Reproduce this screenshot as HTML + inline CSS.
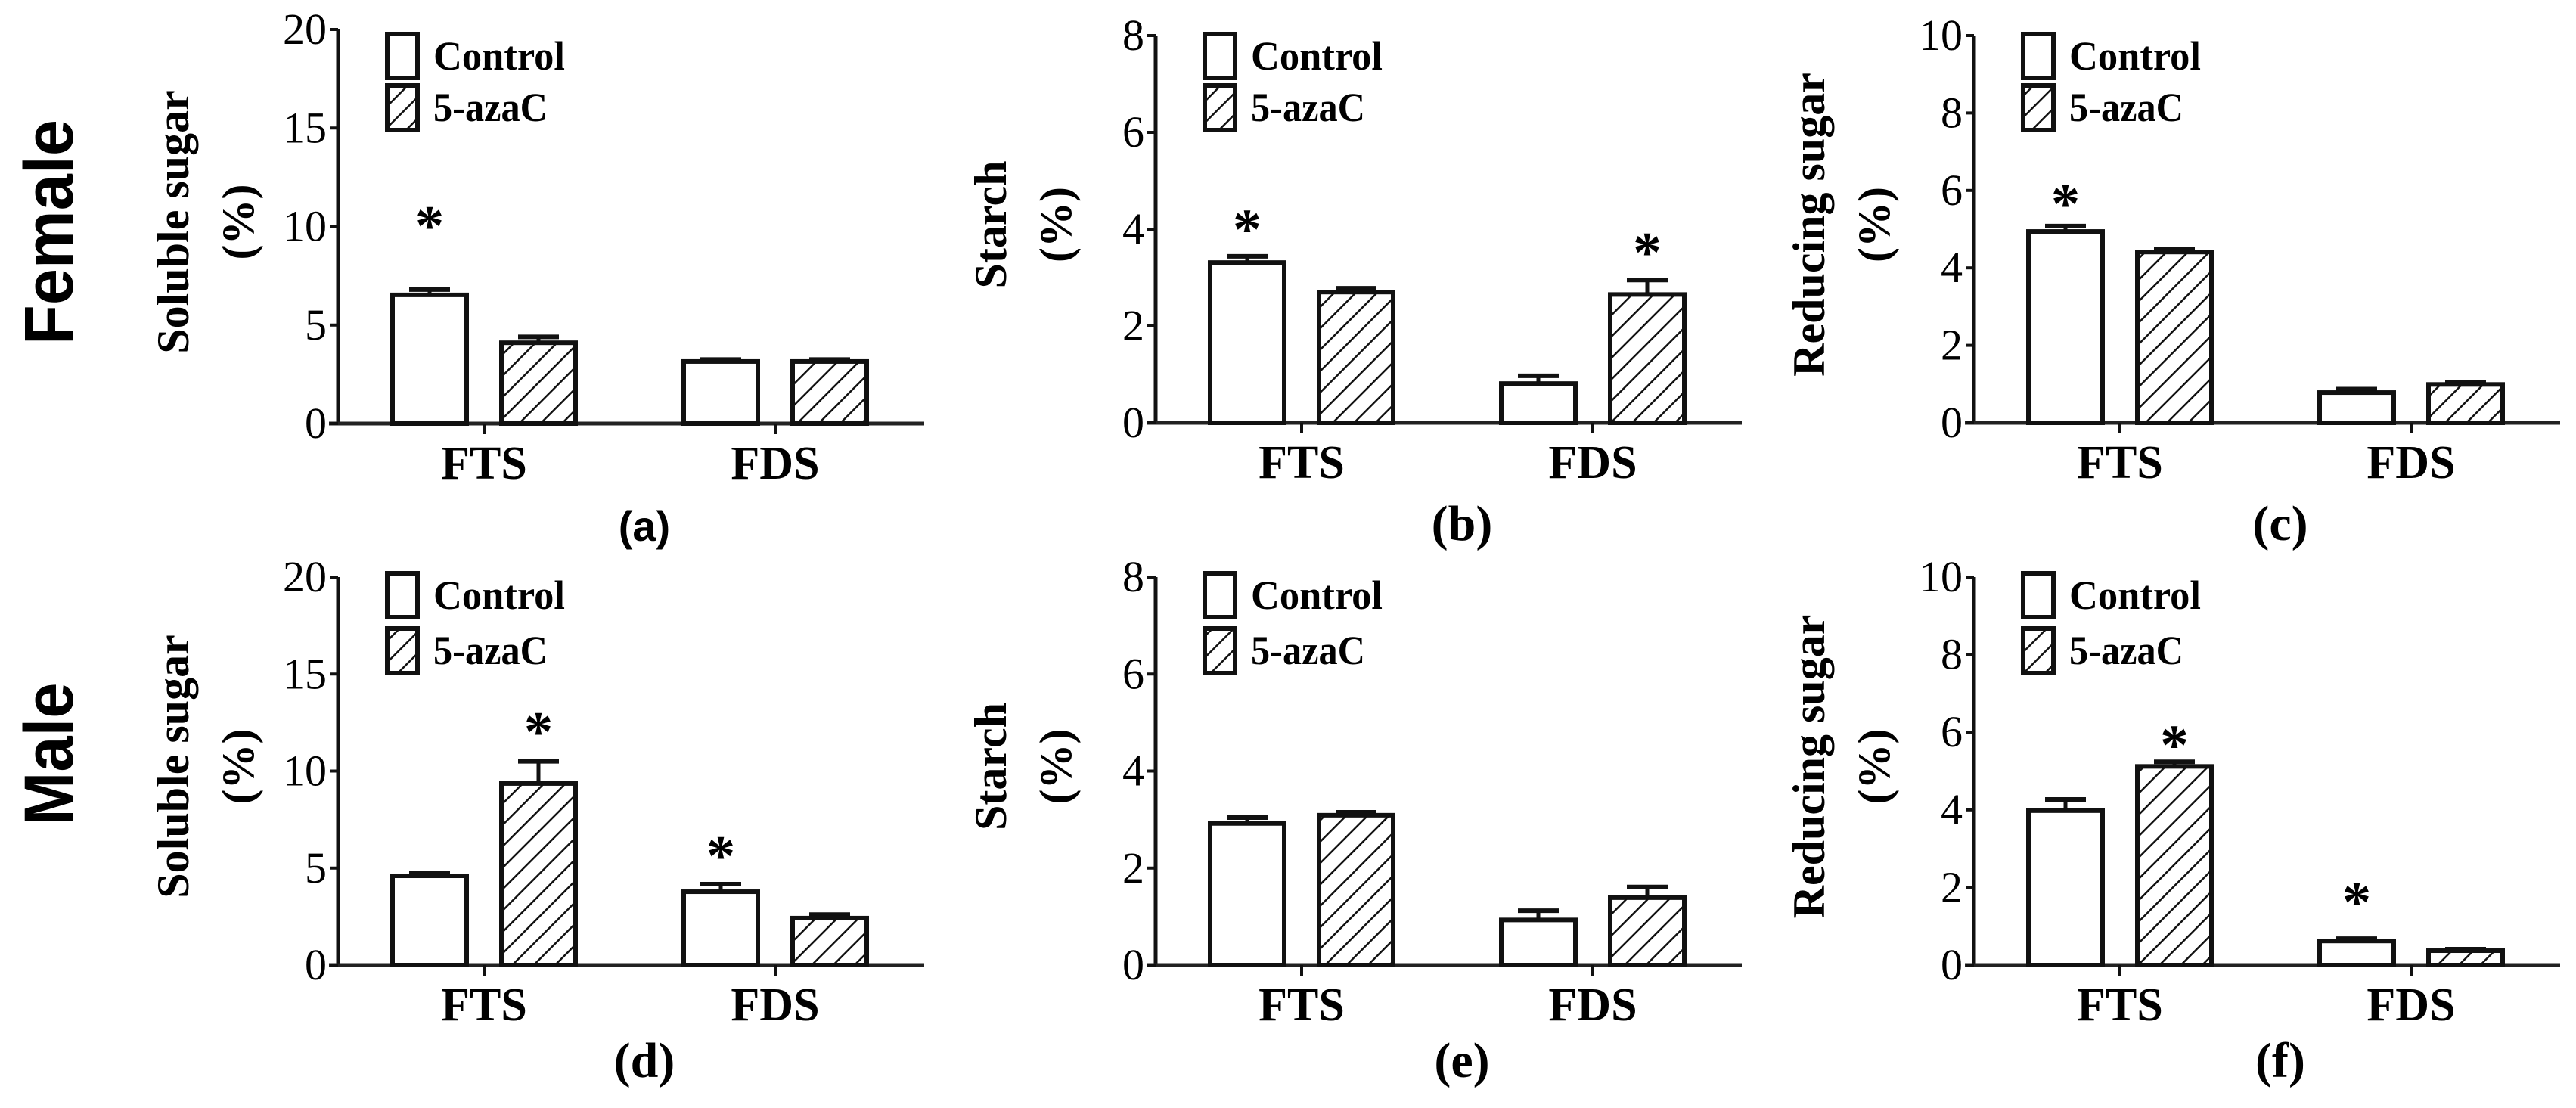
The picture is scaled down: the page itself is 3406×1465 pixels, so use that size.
<!DOCTYPE html>
<html><head><meta charset="utf-8"><style>
html,body{margin:0;padding:0;background:#fff;}
svg{display:block;}
</style></head><body>
<svg id="fig" xmlns="http://www.w3.org/2000/svg" width="3406" height="1465" viewBox="0 0 3406 1465">
<defs>
<pattern id="hatch" patternUnits="userSpaceOnUse" width="20" height="20" patternTransform="rotate(45)">
<rect width="20" height="20" fill="#fff"/><line x1="0" y1="0" x2="0" y2="20" stroke="#111" stroke-width="5"/>
</pattern>
</defs>
<rect width="3406" height="1465" fill="#fff"/>
<text transform="translate(96,307) rotate(-90)" text-anchor="middle" font-family="Liberation Sans, sans-serif" font-weight="bold" font-size="92" textLength="298" lengthAdjust="spacingAndGlyphs">Female</text>
<text transform="translate(96,997) rotate(-90)" text-anchor="middle" font-family="Liberation Sans, sans-serif" font-weight="bold" font-size="92" textLength="189" lengthAdjust="spacingAndGlyphs">Male</text>
</svg>
<script>
// ---- data ----
const categories = ["FTS", "FDS"];
const seriesNames = ["Control", "5-azaC"];
const panelLetters = ["(a)", "(b)", "(c)", "(d)", "(e)", "(f)"];
const yTitles = ["Soluble sugar", "Starch", "Reducing sugar", "Soluble sugar", "Starch", "Reducing sugar"];
const yMax = [20, 8, 10, 20, 8, 10];
const yStep = [5, 2, 2, 5, 2, 2];
// values [panel][category] for each series
const controlMean = [[6.53, 3.15], [3.31, 0.81], [4.94, 0.78], [4.6, 3.78], [2.92, 0.93], [3.98, 0.62]];
const controlErr  = [[0.27, 0.1], [0.13, 0.16], [0.14, 0.09], [0.15, 0.39], [0.12, 0.19], [0.29, 0.06]];
const azaMean = [[4.1, 3.15], [2.70, 2.65], [4.41, 0.99], [9.36, 2.42], [3.09, 1.39], [5.12, 0.37]];
const azaErr  = [[0.3, 0.1], [0.08, 0.3], [0.08, 0.06], [1.14, 0.18], [0.06, 0.22], [0.12, 0.04]];
// significance stars: [panel, category, series(0 ctrl,1 aza), y value]
const stars = [[0,0,0,10.6],[1,0,0,4.23],[1,1,1,3.75],[2,0,0,5.94],[3,0,1,12.6],[3,1,0,6.2],[5,0,1,5.96],[5,1,0,1.91]];

// ---- layout ----
const NS = "http://www.w3.org/2000/svg";
const svg = document.getElementById("fig");
const axX = [447, 1528, 2610, 447, 1528, 2610];
const yTop = [39, 47, 47, 763, 763, 763];
const yBot = [560, 559, 559, 1276, 1276, 1276];
const serif = "Liberation Serif, serif";

function mk(tag, attrs, parent) {
  const e = document.createElementNS(NS, tag);
  for (const k in attrs) e.setAttribute(k, attrs[k]);
  (parent || svg).appendChild(e);
  return e;
}

for (let p = 0; p < 6; p++) {
  const g = mk("g", {});
  
  
  const x0 = axX[p], top = yTop[p], bot = yBot[p];
  const ys = v => bot - v / yMax[p] * (bot - top);
  const xc = ci => x0 + 193 + ci * 385;
  const bw = 98;
  // axes
  const ya = mk("line", {x1: x0, y1: top, x2: x0, y2: bot + 2, stroke: "#111", "stroke-width": 5}, g);
  
  
  const xa = mk("line", {x1: x0 - 12, y1: bot, x2: x0 + 775, y2: bot, stroke: "#222", "stroke-width": 5}, g);
  
  
  for (let v = 0; v <= yMax[p]; v += yStep[p]) {
    mk("line", {x1: x0 - 11, y1: ys(v), x2: x0, y2: ys(v), stroke: "#111", "stroke-width": 4}, g);
    const t = mk("text", {x: x0 - 15, y: ys(v) + 19, "text-anchor": "end", "font-family": serif, "font-size": 58}, g);
    t.textContent = v;
    
    
  }
  // y title
  const yt = mk("text", {transform: `translate(${x0 - 198},${(top + bot) / 2 - 6}) rotate(-90)`, "text-anchor": "middle", "font-family": serif, "font-weight": "bold", "font-size": 60}, g);
  yt.textContent = yTitles[p];
  
  
  const yp = mk("text", {transform: `translate(${x0 - 112},${(top + bot) / 2 - 6}) rotate(-90)`, "text-anchor": "middle", "font-family": serif, "font-weight": "bold", "font-size": 60}, g);
  yp.textContent = "(%)";
  
  
  // categories
  categories.forEach((c, ci) => {
    const cx = xc(ci);
    mk("line", {x1: cx, y1: bot, x2: cx, y2: bot + 14, stroke: "#111", "stroke-width": 4}, g);
    const t = mk("text", {x: cx, y: bot + 73, "text-anchor": "middle", "font-family": serif, "font-weight": "bold", "font-size": 62}, g);
    t.textContent = c;
    
    
    [[controlMean, controlErr, "#fff", -72, "control"], [azaMean, azaErr, "url(#hatch)", 72, "5-azac"]].forEach(([m, e, fill, off, nm]) => {
      const bx = cx + off - bw / 2, val = m[p][ci], er = e[p][ci];
      const errL = mk("line", {x1: cx + off, y1: ys(val), x2: cx + off, y2: ys(val + er), stroke: "#111", "stroke-width": 5}, g);
      
      
      const cap = mk("line", {x1: cx + off - 27, y1: ys(val + er), x2: cx + off + 27, y2: ys(val + er), stroke: "#111", "stroke-width": 6}, g);
      
      
      const r = mk("rect", {x: bx, y: ys(val), width: bw, height: bot - ys(val), fill: fill, stroke: "#111", "stroke-width": 6}, g);
      
      
    });
  });
  // legend
  const lt = p < 3 ? [45, 113] : [758, 831];
  const lh = [58, 59];
  seriesNames.forEach((s, si) => {
    const b = mk("rect", {x: x0 + 65, y: lt[si], width: 40, height: lh[si], fill: si ? "url(#hatch)" : "#fff", stroke: "#111", "stroke-width": 6}, g);
    
    
    const t = mk("text", {x: x0 + 126, y: lt[si] + 47, "font-family": serif, "font-weight": "bold", "font-size": 54, textLength: si ? 151 : 174, lengthAdjust: "spacingAndGlyphs"}, g);
    t.textContent = s;
    
    
  });
  // panel letter
  const pl = mk("text", {x: x0 + 405, y: bot + (p < 3 ? 155 : 148), "text-anchor": "middle", "font-family": p === 0 ? "Liberation Sans, sans-serif" : serif, "font-weight": "bold", "font-size": p === 0 ? 56 : 66}, g);
  pl.textContent = panelLetters[p];
  
  
}
stars.forEach(([p, ci, si, v]) => {
  const bot = yBot[p], top = yTop[p];
  const y = bot - v / yMax[p] * (bot - top);
  const x = axX[p] + 193 + ci * 385 + (si ? 72 : -72);
  const t = mk("text", {x: x, y: y + 40, "text-anchor": "middle", "font-family": serif, "font-weight": "bold", "font-size": 76});
  t.textContent = "*";
  
  
});
</script>
</body></html>
